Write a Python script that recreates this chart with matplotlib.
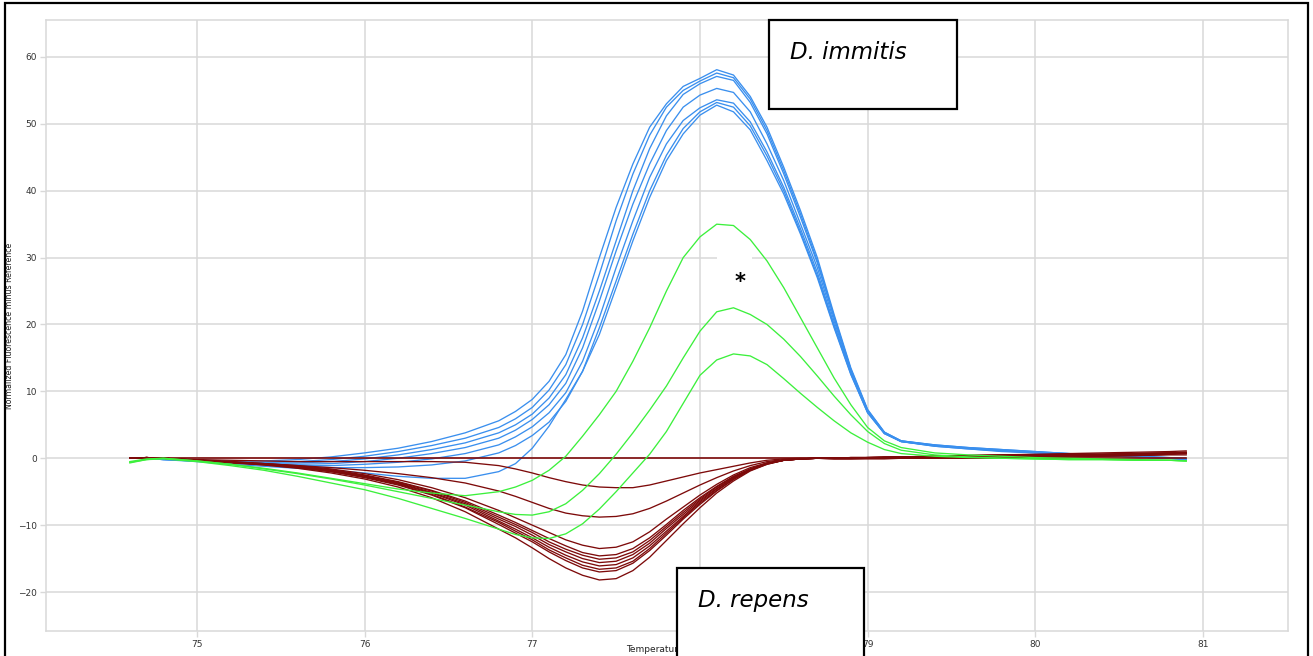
import matplotlib
matplotlib.use("Agg")
import matplotlib.pyplot as plt
from matplotlib.patches import Rectangle

# Melt-curve readings: temperature (deg C) and normalized fluorescence minus reference
temps = [74.6, 74.7, 74.8, 75.0, 75.2, 75.4, 75.6, 75.8,
         76.0, 76.2, 76.4, 76.6, 76.8, 76.9, 77.0, 77.1,
         77.2, 77.3, 77.4, 77.5, 77.6, 77.7, 77.8, 77.9,
         78.0, 78.1, 78.2, 78.3, 78.4, 78.5, 78.6, 78.7,
         78.8, 78.9, 79.0, 79.1, 79.2, 79.4, 79.6, 79.8,
         80.0, 80.2, 80.4, 80.6, 80.8, 80.9]

# D. immitis samples (blue)
immitis = [
    [0.0, 0.0, -0.1, -0.3, -0.4, -0.4, -0.2, 0.2, 0.8, 1.5, 2.5, 3.8, 5.6, 7.0, 8.8, 11.5,
     15.5, 22.0, 30.0, 37.5, 44.0, 49.5, 53.0, 55.6, 56.8, 58.1, 57.3, 54.1, 49.5, 43.5, 37.0, 30.0,
     21.5, 13.5, 7.3, 3.9, 2.6, 2.0, 1.6, 1.3, 1.0, 0.7, 0.5, 0.3, 0.1, 0.0],
    [0.0, 0.0, -0.1, -0.3, -0.5, -0.6, -0.5, -0.2, 0.3, 1.0, 1.9, 3.0, 4.6, 5.9, 7.6, 10.2,
     14.0, 20.0, 27.5, 35.5, 42.5, 48.3, 52.5, 55.0, 56.4, 57.6, 56.9, 53.7, 49.0, 43.0, 36.5, 29.5,
     21.2, 13.3, 7.2, 3.9, 2.6, 2.0, 1.6, 1.3, 1.0, 0.7, 0.5, 0.3, 0.1, -0.1],
    [0.0, 0.0, -0.1, -0.3, -0.5, -0.7, -0.7, -0.5, -0.1, 0.5, 1.3, 2.3, 3.8, 5.0, 6.6, 9.0,
     12.5, 18.0, 25.0, 32.5, 40.0, 46.3, 51.2, 54.4, 56.0, 57.1, 56.5, 53.2, 48.5, 42.5, 36.0, 29.2,
     21.0, 13.2, 7.1, 3.8, 2.6, 1.9, 1.5, 1.2, 0.9, 0.7, 0.5, 0.3, 0.0, -0.1],
    [0.0, 0.0, -0.1, -0.3, -0.6, -0.8, -0.9, -0.8, -0.5, 0.0, 0.7, 1.6, 3.0, 4.2, 5.8, 8.0,
     11.2, 16.5, 23.5, 31.0, 38.0, 44.0, 49.0, 52.5, 54.3, 55.3, 54.7, 51.8, 47.0, 41.5, 35.0, 28.5,
     20.5, 13.0, 7.0, 3.8, 2.5, 1.9, 1.5, 1.2, 0.9, 0.6, 0.4, 0.2, 0.0, -0.1],
    [0.0, 0.0, -0.2, -0.4, -0.7, -0.9, -1.1, -1.1, -0.9, -0.6, -0.1, 0.7, 2.0, 3.2, 4.7, 6.8,
     9.8, 14.5, 21.0, 28.5, 35.5, 42.0, 47.0, 50.5, 52.4, 53.6, 53.1, 50.3, 45.8, 40.5, 34.3, 27.8,
     20.0, 12.8, 6.9, 3.7, 2.5, 1.9, 1.5, 1.1, 0.9, 0.6, 0.4, 0.2, 0.0, -0.2],
    [0.0, 0.0, -0.2, -0.4, -0.7, -1.0, -1.2, -1.4, -1.4, -1.3, -1.0, -0.4, 0.8, 1.9, 3.4, 5.4,
     8.5, 13.0, 19.5, 26.5, 33.5, 40.0, 45.3, 49.3, 51.8, 53.2, 52.5, 49.7, 45.2, 40.0, 33.8, 27.3,
     19.7, 12.6, 6.8, 3.7, 2.5, 1.8, 1.4, 1.1, 0.8, 0.6, 0.4, 0.2, 0.0, -0.2],
    [0.0, 0.0, -0.2, -0.5, -0.9, -1.2, -1.5, -1.8, -2.2, -2.7, -3.0, -3.0, -2.0, -0.8, 1.5, 4.8,
     8.8, 13.0, 18.5, 25.5, 32.5, 39.0, 44.5, 48.5, 51.3, 52.8, 51.8, 49.1, 44.5, 39.5, 33.5, 27.0,
     19.5, 12.5, 6.8, 3.7, 2.5, 1.8, 1.4, 1.0, 0.8, 0.6, 0.4, 0.2, 0.0, -0.2],
]

# Mixed samples (green)
mixed = [
    [-0.7, -0.2, 0.0, -0.4, -0.9, -1.5, -2.2, -3.0, -3.8, -4.6, -5.2, -5.6, -5.0, -4.3, -3.3, -1.8,
     0.3, 3.3, 6.5, 10.0, 14.5, 19.5, 25.0, 30.0, 33.1, 35.0, 34.8, 32.7, 29.5, 25.5, 21.0, 16.5,
     12.0, 8.0, 4.6, 2.6, 1.6, 0.8, 0.5, 0.3, 0.1, 0.0, -0.1, -0.2, -0.3, -0.4],
    [-0.5, -0.1, 0.0, -0.4, -0.9, -1.6, -2.3, -3.1, -4.0, -5.0, -6.0, -7.0, -8.0, -8.4, -8.5, -8.0,
     -6.8, -4.8, -2.3, 0.6, 3.8, 7.2, 10.8, 15.0, 19.0, 21.9, 22.5, 21.5, 20.0, 17.8, 15.2, 12.3,
     9.3, 6.5, 4.0, 2.2, 1.2, 0.5, 0.2, 0.0, -0.1, -0.2, -0.2, -0.3, -0.3, -0.4],
    [-0.6, -0.2, -0.1, -0.5, -1.1, -1.8, -2.7, -3.7, -4.7, -6.0, -7.5, -9.0, -10.6, -11.4, -11.9, -12.0,
     -11.3, -9.8, -7.6, -5.0, -2.2, 0.6, 4.0, 8.2, 12.4, 14.7, 15.6, 15.3, 14.0, 11.9, 9.7, 7.6,
     5.6, 3.8, 2.4, 1.3, 0.7, 0.3, 0.1, 0.0, -0.1, -0.2, -0.2, -0.3, -0.3, -0.4],
]

# D. repens samples (dark red)
repens = [
    [0.0, 0.1, 0.0, -0.2, -0.3, -0.4, -0.5, -0.5, -0.5, -0.5, -0.5, -0.6, -1.1, -1.6, -2.2, -2.9,
     -3.5, -4.0, -4.3, -4.4, -4.4, -4.0, -3.4, -2.8, -2.2, -1.7, -1.2, -0.7, -0.3, -0.1, 0.0, 0.0,
     0.0, 0.1, 0.1, 0.1, 0.2, 0.2, 0.3, 0.4, 0.4, 0.5, 0.5, 0.6, 0.7, 0.7],
    [0.0, 0.1, 0.0, -0.3, -0.5, -0.8, -1.1, -1.4, -1.8, -2.3, -2.9, -3.7, -4.9, -5.7, -6.6, -7.5,
     -8.2, -8.6, -8.8, -8.7, -8.3, -7.5, -6.4, -5.2, -4.0, -2.9, -1.9, -1.1, -0.5, -0.2, -0.1, 0.0,
     0.0, 0.0, 0.1, 0.1, 0.1, 0.2, 0.2, 0.3, 0.4, 0.4, 0.5, 0.6, 0.7, 0.8],
    [0.0, 0.1, 0.0, -0.3, -0.5, -0.8, -1.1, -1.6, -2.3, -3.2, -4.4, -5.9, -7.8, -8.9, -10.0, -11.1,
     -12.2, -13.0, -13.5, -13.3, -12.5, -11.0, -9.1, -7.3, -5.5, -3.9, -2.5, -1.4, -0.7, -0.3, -0.1, 0.0,
     0.0, 0.1, 0.1, 0.2, 0.2, 0.3, 0.4, 0.5, 0.5, 0.6, 0.6, 0.7, 0.8, 0.9],
    [0.0, 0.1, 0.0, -0.3, -0.6, -0.8, -1.2, -1.7, -2.5, -3.5, -4.8, -6.4, -8.5, -9.6, -10.8, -12.0,
     -13.1, -14.1, -14.6, -14.4, -13.5, -11.9, -9.9, -7.8, -5.9, -4.2, -2.7, -1.6, -0.7, -0.3, -0.1, 0.0,
     -0.1, -0.1, 0.0, 0.0, 0.0, 0.1, 0.1, 0.2, 0.2, 0.3, 0.3, 0.4, 0.5, 0.5],
    [0.0, 0.1, 0.0, -0.3, -0.6, -0.9, -1.2, -1.8, -2.6, -3.6, -4.9, -6.6, -8.8, -9.9, -11.1, -12.5,
     -13.6, -14.5, -15.1, -14.9, -14.0, -12.3, -10.2, -8.1, -6.1, -4.3, -2.8, -1.6, -0.8, -0.3, -0.1, 0.0,
     0.0, 0.0, 0.1, 0.1, 0.2, 0.3, 0.4, 0.5, 0.6, 0.7, 0.8, 0.9, 1.0, 1.1],
    [0.0, 0.1, 0.0, -0.3, -0.6, -0.9, -1.3, -1.9, -2.6, -3.7, -5.1, -6.8, -9.1, -10.2, -11.5, -12.9,
     -14.0, -15.0, -15.6, -15.4, -14.4, -12.7, -10.5, -8.4, -6.3, -4.5, -2.9, -1.7, -0.8, -0.3, -0.1, 0.0,
     -0.1, -0.1, -0.1, -0.1, 0.0, 0.0, 0.0, 0.1, 0.1, 0.2, 0.3, 0.4, 0.6, 0.8],
    [0.0, 0.1, 0.0, -0.3, -0.6, -0.9, -1.3, -1.9, -2.7, -3.8, -5.2, -7.0, -9.4, -10.6, -11.9, -13.3,
     -14.5, -15.5, -16.1, -15.9, -14.9, -13.1, -10.9, -8.7, -6.5, -4.6, -3.0, -1.7, -0.8, -0.3, -0.1, 0.0,
     0.0, 0.1, 0.1, 0.2, 0.2, 0.3, 0.4, 0.5, 0.5, 0.6, 0.6, 0.7, 0.8, 0.8],
    [0.0, 0.1, 0.0, -0.3, -0.6, -0.9, -1.4, -2.0, -2.8, -3.9, -5.4, -7.3, -9.6, -10.9, -12.2, -13.7,
     -14.9, -16.0, -16.6, -16.4, -15.4, -13.5, -11.2, -8.9, -6.7, -4.8, -3.1, -1.8, -0.8, -0.3, -0.1, 0.0,
     0.0, 0.0, 0.0, 0.1, 0.1, 0.2, 0.2, 0.3, 0.3, 0.4, 0.5, 0.5, 0.6, 0.7],
    [0.0, 0.1, 0.0, -0.3, -0.6, -1.0, -1.4, -2.0, -2.9, -4.0, -5.5, -7.4, -9.9, -11.2, -12.5, -14.0,
     -15.3, -16.4, -17.0, -16.8, -15.7, -13.8, -11.5, -9.1, -6.9, -4.9, -3.2, -1.8, -0.9, -0.3, -0.1, 0.0,
     0.0, 0.1, 0.1, 0.1, 0.2, 0.3, 0.3, 0.4, 0.5, 0.5, 0.6, 0.7, 0.8, 0.9],
    [0.0, 0.1, 0.0, -0.3, -0.7, -1.0, -1.5, -2.2, -3.1, -4.3, -5.9, -8.0, -10.6, -11.9, -13.4, -15.0,
     -16.4, -17.5, -18.2, -18.0, -16.8, -14.8, -12.3, -9.8, -7.4, -5.2, -3.4, -1.9, -0.9, -0.3, -0.1, 0.0,
     0.0, 0.0, 0.1, 0.1, 0.1, 0.2, 0.3, 0.3, 0.4, 0.5, 0.5, 0.6, 0.7, 0.8],
]

# Reference sample (flat after subtraction)
ref_temps = [74.6, 80.9]
ref_values = [0.0, 0.0]

x_ticks = [75, 76, 77, 78, 79, 80, 81]
y_ticks = [-20, -10, 0, 10, 20, 30, 40, 50, 60]

BLUE = "#3a8fee"
GREEN = "#3cf03c"
RED = "#7d0a0a"
GRID = "#d9d9d9"

W, H = 1313, 656
fig = plt.figure(figsize=(W / 100, H / 100), dpi=100)
fig.patch.set_facecolor("white")


def px_box(x0, y0, x1, y1):
    """Figure-fraction rectangle from pixel corners (origin top-left)."""
    return (x0 / W, 1 - y1 / H), (x1 - x0) / W, (y1 - y0) / H


ax = fig.add_axes([46 / W, 25 / H, 1242 / W, 611 / H])
ax.set_xlim(74.10, 81.507)
ax.set_ylim(-25.83, 65.53)
ax.set_xticks(x_ticks)
ax.set_yticks(y_ticks)
ax.grid(True, color=GRID, linewidth=1.1)
ax.set_axisbelow(True)
for sp in ax.spines.values():
    sp.set_color(GRID)
    sp.set_linewidth(1.1)
ax.tick_params(axis="both", length=4.5, width=1.0, color=GRID,
               labelsize=6.5, labelcolor="#333333", pad=2)

# white patch behind the asterisk
(bx, by), bw, bh = px_box(717, 245, 752, 300)
ax.add_patch(Rectangle((bx, by), bw, bh, transform=fig.transFigure,
                       facecolor="white", edgecolor="none", zorder=1))

lw = 0.95
for ys in immitis:
    ax.plot(temps, ys, color=BLUE, lw=lw, zorder=2)
for ys in repens:
    ax.plot(temps, ys, color=RED, lw=lw, zorder=3)
ax.plot(ref_temps, ref_values, color=RED, lw=1.2, zorder=3)
for ys in mixed:
    ax.plot(temps, ys, color=GREEN, lw=lw, zorder=4)

ax.set_ylabel("Normalized Fluorescence minus Reference", fontsize=5.6,
              color="#222222")
ax.yaxis.set_label_coords((14 - 46) / 1242, 0.5)
ax.set_xlabel("Temperature", fontsize=6.5, color="#222222", ha="left",
              va="center")
ax.xaxis.set_label_coords((626 - 46) / 1242, -(650 - 631) / 611)

fig.text(740 / W, 1 - 282 / H, "*", fontsize=15, fontweight="bold",
         ha="center", va="center", color="black", fontfamily="DejaVu Sans")

# species labels in boxes
for (x0, y0, x1, y1), label, (tx, ty) in [
        ((769, 20, 957, 109), "D. immitis", (790, 59)),
        ((677, 568, 864, 700), "D. repens", (698, 607))]:
    (rx, ry), rw, rh = px_box(x0, y0, x1, y1)
    fig.add_artist(Rectangle((rx, ry), rw, rh, transform=fig.transFigure,
                             facecolor="white", edgecolor="black", lw=1.6,
                             zorder=5))
    fig.text(tx / W, 1 - ty / H, label, fontsize=16.5, style="italic",
             fontfamily="DejaVu Sans", ha="left", va="baseline", zorder=6)

# outer frame
fig.add_artist(Rectangle((5 / W, -0.1), (1308 - 5) / W, 1 - 3 / H + 0.1,
                         transform=fig.transFigure, fill=False,
                         edgecolor="black", lw=1.6, zorder=7))

fig.savefig("out.png", dpi=100)
